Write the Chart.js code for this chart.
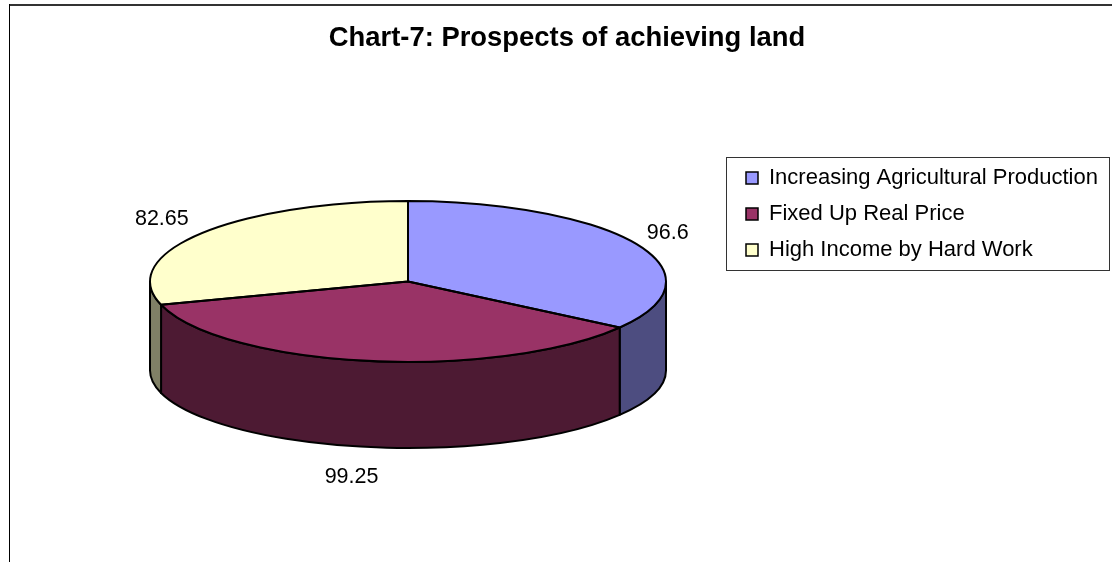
<!DOCTYPE html>
<html>
<head>
<meta charset="utf-8">
<title>Chart-7</title>
<script src="https://cdn.jsdelivr.net/npm/chart.js@4"></script>
<style>
    html, body { margin: 0; padding: 0; background: #fff; }
    canvas { display: block; }
</style>
</head>
<body>
<canvas id="grafico" width="1112" height="562"></canvas>
<script>
const categorias = ['Increasing Agricultural Production', 'Fixed Up Real Price', 'High Income by Hard Work'];
const valores = [96.6, 99.25, 82.65];
const coloresTapa = ['#9999FF', '#993366', '#FFFFCC'];
const coloresLado = ['#4D4D80', '#4D1A33', '#808066'];
// desplazamiento de cada etiqueta respecto al borde de su tajada
const desvioEtiquetas = [[31, -11], [-16, 116], [-39, -14]];

const fuente = 'Liberation Sans, Arial, sans-serif';
const radioX = 258;
const radioY = 80.5;
const centroY = 281.5;
const alto = 89;
const radioYBase = 77.5;

// el pie de Chart.js se aplasta con una transformacion y se le agrega el lado
const pie3d = {
    id: 'pie3d',
    afterLayout(chart) {
        chart.titleBlock.left = 22;
        chart.titleBlock.right = 1112;
        // la leyenda se recorta a su caja, hay que mover los cuatro lados
        chart.legend.left = 732;
        chart.legend.right = 1110;
        chart.legend.top = 153;
        chart.legend.bottom = 300;
    },
    beforeDraw(chart) {
        const ctx = chart.ctx;
        ctx.save();
        ctx.fillStyle = '#333';
        ctx.fillRect(9, 4, 1103, 2);
        ctx.fillStyle = '#000';
        ctx.fillRect(9, 4, 1, 558);
        ctx.strokeStyle = '#333';
        ctx.lineWidth = 1;
        ctx.strokeRect(726.5, 157.5, 383, 113);
        ctx.restore();
    },
    beforeDatasetsDraw(chart) {
        const ctx = chart.ctx;
        const arcos = chart.getDatasetMeta(0).data;
        ctx.save();
        ctx.strokeStyle = '#000';
        ctx.lineWidth = 2;
        ctx.lineJoin = 'round';
        arcos.forEach((arco, i) => {
            // solo se ve la mitad delantera del cilindro
            const a = Math.max(arco.startAngle, 0);
            const b = Math.min(arco.endAngle, Math.PI);
            if (b <= a) return;
            ctx.beginPath();
            ctx.ellipse(arco.x, centroY, radioX, radioY, 0, a, b);
            ctx.ellipse(arco.x, centroY + alto, radioX, radioYBase, 0, b, a, true);
            ctx.closePath();
            ctx.fillStyle = coloresLado[i];
            ctx.fill();
            ctx.stroke();
        });
        ctx.restore();

        const y = arcos[0].y;
        ctx.save();
        ctx.translate(0, centroY);
        ctx.scale(1, radioY / radioX);
        ctx.translate(0, -y);
    },
    afterDatasetsDraw(chart) {
        const ctx = chart.ctx;
        ctx.restore();
        const arcos = chart.getDatasetMeta(0).data;
        ctx.save();
        ctx.strokeStyle = '#000';
        ctx.lineWidth = 2;
        ctx.lineJoin = 'round';
        arcos.forEach(arco => {
            ctx.beginPath();
            ctx.moveTo(arco.x, centroY);
            ctx.ellipse(arco.x, centroY, radioX, radioY, 0, arco.startAngle, arco.endAngle);
            ctx.closePath();
            ctx.stroke();
        });
        ctx.fillStyle = '#000';
        ctx.font = '21.5px ' + fuente;
        ctx.textAlign = 'center';
        ctx.textBaseline = 'middle';
        arcos.forEach((arco, i) => {
            const medio = (arco.startAngle + arco.endAngle) / 2;
            const x = arco.x + radioX * Math.cos(medio) + desvioEtiquetas[i][0];
            const y = centroY + radioY * Math.sin(medio) + desvioEtiquetas[i][1];
            ctx.fillText(String(valores[i]), x, y);
        });
        ctx.restore();
    }
};

new Chart(document.getElementById('grafico'), {
    type: 'pie',
    data: {
        labels: categorias,
        datasets: [{
            data: valores,
            backgroundColor: coloresTapa,
            borderWidth: 0,
            radius: radioX,
            clip: false
        }]
    },
    options: {
        responsive: false,
        animation: false,
        layout: { padding: { left: 150, right: 446 } },
        plugins: {
            title: {
                display: true,
                text: 'Chart-7: Prospects of achieving land',
                color: '#000',
                font: { family: fuente, size: 27.4, weight: 'bold' },
                padding: { top: 22, bottom: 10 }
            },
            legend: {
                position: 'chartArea',
                align: 'start',
                labels: {
                    color: '#000',
                    font: { family: fuente, size: 22 },
                    boxWidth: 12,
                    boxHeight: 12,
                    padding: 14,
                    generateLabels(chart) {
                        const items = Chart.overrides.pie.plugins.legend.labels.generateLabels(chart);
                        return items.map(item => ({ ...item, strokeStyle: '#000', lineWidth: 1.5 }));
                    }
                }
            },
            tooltip: { enabled: false }
        }
    },
    plugins: [pie3d]
});
</script>
</body>
</html>
